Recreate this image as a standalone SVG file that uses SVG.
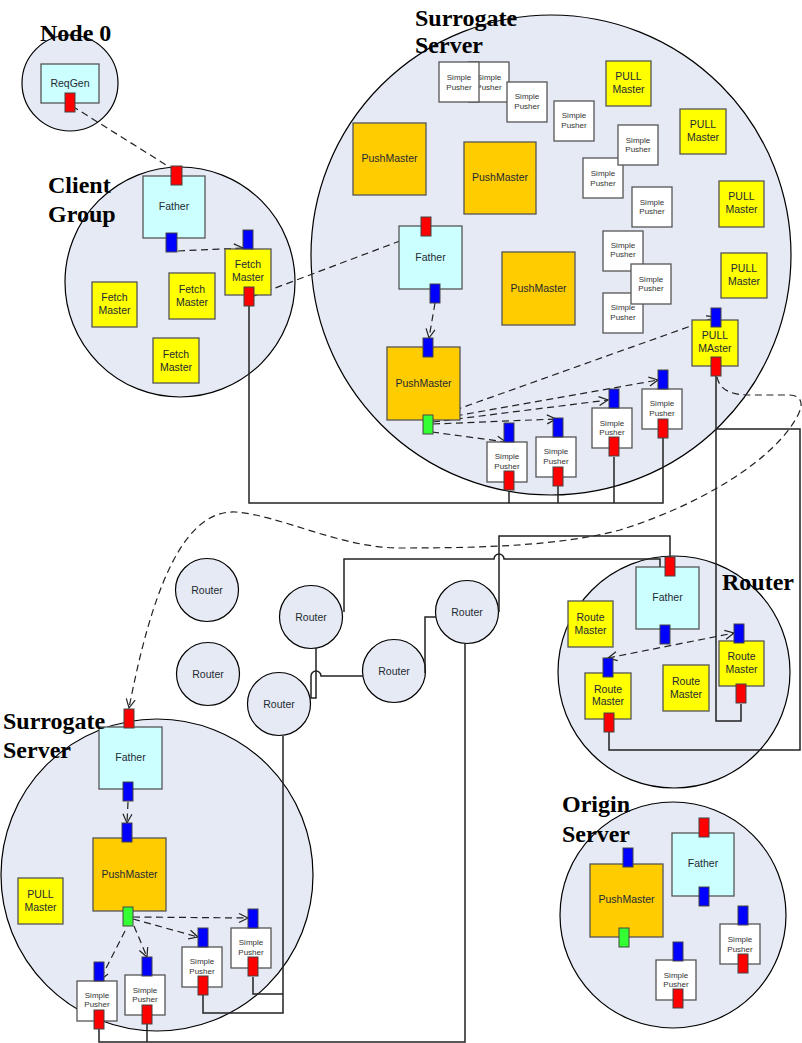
<svg xmlns="http://www.w3.org/2000/svg" width="802" height="1043" viewBox="0 0 802 1043">
<style>
.c{fill:#e6eaf4;stroke:#000;stroke-width:1.2}
.fa{fill:#ccffff;stroke:#555;stroke-width:1.3}
.ye{fill:#ffff00;stroke:#555;stroke-width:1.3}
.pm{fill:#ffcc00;stroke:#555;stroke-width:1.3}
.sp{fill:#fff;stroke:#555;stroke-width:1.3}
.pr{fill:#ff0000;stroke:#444;stroke-width:1}
.pb{fill:#0000ff;stroke:#444;stroke-width:1}
.pg{fill:#33ff33;stroke:#444;stroke-width:1}
.t{font-family:"Liberation Sans",Arial,sans-serif;font-size:10.5px;fill:#1e2a33;text-anchor:middle}
.s{font-family:"Liberation Sans",Arial,sans-serif;font-size:8px;fill:#333;text-anchor:middle}
.big{font-family:"Liberation Serif","Times New Roman",serif;font-weight:bold;font-size:24px;fill:#000}
.w{fill:none;stroke:#222;stroke-width:1.5}
.d{fill:none;stroke:#222;stroke-width:1.2;stroke-dasharray:7,4.5}
</style>
<defs>
<marker id="ah" markerWidth="12" markerHeight="12" refX="10" refY="6" orient="auto-start-reverse" markerUnits="userSpaceOnUse">
<path d="M1,1.5 L10,6 L1,10.5" fill="none" stroke="#222" stroke-width="1.2"/>
</marker>
</defs>

<!-- containers -->
<g id="node0-circle"><circle class="c" cx="70" cy="83" r="48"/></g>
<g id="client-circle"><circle class="c" cx="180" cy="282" r="115"/></g>
<g id="surrogate1-circle"><circle class="c" cx="551" cy="255" r="240"/></g>
<g id="routergrp-circle"><circle class="c" cx="674" cy="672" r="116"/></g>
<g id="surrogate2-circle"><circle class="c" cx="157" cy="875" r="156"/></g>
<g id="origin-circle"><circle class="c" cx="673" cy="915" r="113"/></g>

<!-- routers -->
<g id="routerA"><circle class="c" cx="207" cy="590" r="31.5"/><text class="t" x="207" y="594">Router</text></g>
<g id="routerB"><circle class="c" cx="208" cy="674" r="31.5"/><text class="t" x="208" y="678">Router</text></g>
<g id="routerC"><circle class="c" cx="311" cy="617" r="31.5"/><text class="t" x="311" y="621">Router</text></g>
<g id="routerD"><circle class="c" cx="279" cy="704" r="31.5"/><text class="t" x="279" y="708">Router</text></g>
<g id="routerE"><circle class="c" cx="394" cy="671" r="31.5"/><text class="t" x="394" y="675">Router</text></g>
<g id="routerF"><circle class="c" cx="467" cy="612" r="31.5"/><text class="t" x="467" y="616">Router</text></g>

<!-- connectors -->
<g id="connectors">
<path class="w" d="M249,306 V503 H663 V438"/>
<path class="w" d="M509,491 V503"/>
<path class="w" d="M558,486 V503"/>
<path class="w" d="M614,457 V503"/>
<path class="w" d="M716,376 V721 H741 V704"/>
<path class="w" d="M716,429 H800 V750 H609 V732"/>
<path class="w" d="M499,612 V536 H670 V557"/>
<path class="w" d="M344,612 V559 H494 a5,5 0 0 1 10,0 H660 V567"/>
<path class="w" d="M425,673 V617 H436"/>
<path class="w" d="M363,676 H321 a5,5 0 0 0 -10,0 H311 V698"/>
<path class="w" d="M316,648 V698 H310"/>
<path class="w" d="M283,736 V1013 H203 V995"/>
<path class="w" d="M253,977 V994 H283"/>
<path class="w" d="M465,643 V1042 H99 V1029"/>
<path class="w" d="M147,1024 V1042"/>

<path class="d" d="M72,106 L171,168"/>
<path class="d" d="M178,251 L243,248" marker-end="url(#ah)"/>
<path class="d" d="M254,296 L421,233" marker-end="url(#ah)"/>
<path class="d" d="M435,303 L429,338" marker-end="url(#ah)"/>
<path class="d" d="M432,432 L506,442" marker-end="url(#ah)"/>
<path class="d" d="M433,424 L556,419" marker-end="url(#ah)"/>
<path class="d" d="M433,422 L608,400" marker-end="url(#ah)"/>
<path class="d" d="M433,420 L658,380" marker-end="url(#ah)"/>
<path class="d" d="M433,418 L716,317" marker-end="url(#ah)"/>
<path class="d" d="M608,658 L734,633" marker-start="url(#ah)" marker-end="url(#ah)"/>
<path class="d" d="M128,802 L127,823" marker-end="url(#ah)"/>
<path class="d" d="M133,917 L248,918" marker-end="url(#ah)"/>
<path class="d" d="M133,919 L198,937" marker-end="url(#ah)"/>
<path class="d" d="M134,926 L147,957" marker-end="url(#ah)"/>
<path class="d" d="M125,931 L100,980" marker-end="url(#ah)"/>
<path class="d" d="M717,377 C720,392 735,395 750,395 L790,395 C803,396 803,405 798,415 C775,460 700,505 620,530 C560,546 480,548 400,548 C340,548 280,515 235,512 C180,510 150,600 129,708" marker-end="url(#ah)"/>
</g>

<!-- Node 0 -->
<g id="reqgen"><rect class="fa" x="41" y="64" width="58" height="39"/><text class="t" x="70" y="87">ReqGen</text><rect class="pr" x="65" y="93" width="10" height="19"/></g>

<!-- Client group -->
<g id="client-father"><rect class="fa" x="143" y="176" width="62" height="62"/><text class="t" x="174" y="210">Father</text><rect class="pr" x="171" y="166" width="11" height="19"/><rect class="pb" x="166" y="233" width="11" height="19"/></g>
<g id="fetch0"><rect class="ye" x="225" y="249" width="46" height="46"/><text class="t"><tspan x="248" y="268">Fetch</tspan><tspan x="248" y="281">Master</tspan></text><rect class="pb" x="243" y="230" width="10" height="19"/><rect class="pr" x="244" y="287" width="10" height="19"/></g>
<g id="fetch1"><rect class="ye" x="92" y="282" width="45" height="45"/><text class="t"><tspan x="114.5" y="301">Fetch</tspan><tspan x="114.5" y="314">Master</tspan></text></g>
<g id="fetch2"><rect class="ye" x="169" y="273" width="46" height="46"/><text class="t"><tspan x="192" y="293">Fetch</tspan><tspan x="192" y="306">Master</tspan></text></g>
<g id="fetch3"><rect class="ye" x="153" y="338" width="46" height="45"/><text class="t"><tspan x="176" y="358">Fetch</tspan><tspan x="176" y="371">Master</tspan></text></g>

<!-- Surrogate server (top) -->
<g id="s1-spb"><rect class="sp" x="469" y="62" width="40" height="40"/><text class="s"><tspan x="489" y="80">Simple</tspan><tspan x="489" y="90">Pusher</tspan></text></g>
<g id="s1-spa"><rect class="sp" x="439" y="62" width="40" height="40"/><text class="s"><tspan x="459" y="80">Simple</tspan><tspan x="459" y="90">Pusher</tspan></text></g>
<g id="s1-spc"><rect class="sp" x="507" y="82" width="40" height="40"/><text class="s"><tspan x="527" y="99">Simple</tspan><tspan x="527" y="109">Pusher</tspan></text></g>
<g id="s1-spd"><rect class="sp" x="554" y="101" width="40" height="40"/><text class="s"><tspan x="574" y="118">Simple</tspan><tspan x="574" y="128">Pusher</tspan></text></g>
<g id="s1-spf"><rect class="sp" x="583" y="158" width="40" height="40"/><text class="s"><tspan x="603" y="176">Simple</tspan><tspan x="603" y="186">Pusher</tspan></text></g>
<g id="s1-spe"><rect class="sp" x="618" y="125" width="40" height="40"/><text class="s"><tspan x="638" y="143">Simple</tspan><tspan x="638" y="152">Pusher</tspan></text></g>
<g id="s1-spg"><rect class="sp" x="632" y="187" width="40" height="40"/><text class="s"><tspan x="652" y="205">Simple</tspan><tspan x="652" y="214">Pusher</tspan></text></g>
<g id="s1-sph"><rect class="sp" x="603" y="231" width="40" height="40"/><text class="s"><tspan x="623" y="248">Simple</tspan><tspan x="623" y="257">Pusher</tspan></text></g>
<g id="s1-spj"><rect class="sp" x="603" y="293" width="40" height="40"/><text class="s"><tspan x="623" y="310">Simple</tspan><tspan x="623" y="320">Pusher</tspan></text></g>
<g id="s1-spi"><rect class="sp" x="631" y="264" width="40" height="40"/><text class="s"><tspan x="651" y="282">Simple</tspan><tspan x="651" y="291">Pusher</tspan></text></g>
<g id="s1-pull1"><rect class="ye" x="606" y="61" width="45" height="45"/><text class="t"><tspan x="628.5" y="80">PULL</tspan><tspan x="628.5" y="93">Master</tspan></text></g>
<g id="s1-pull2"><rect class="ye" x="680" y="109" width="46" height="45"/><text class="t"><tspan x="703" y="128">PULL</tspan><tspan x="703" y="141">Master</tspan></text></g>
<g id="s1-pull3"><rect class="ye" x="719" y="181" width="45" height="46"/><text class="t"><tspan x="741.5" y="200">PULL</tspan><tspan x="741.5" y="213">Master</tspan></text></g>
<g id="s1-pull4"><rect class="ye" x="721" y="253" width="46" height="45"/><text class="t"><tspan x="744" y="272">PULL</tspan><tspan x="744" y="285">Master</tspan></text></g>
<g id="s1-pull0"><rect class="ye" x="692" y="320" width="46" height="46"/><text class="t"><tspan x="715" y="339">PULL</tspan><tspan x="715" y="352">MAster</tspan></text><rect class="pb" x="711" y="308" width="10" height="19"/><rect class="pr" x="711" y="357" width="10" height="19"/></g>
<g id="s1-pm1"><rect class="pm" x="353" y="123" width="73" height="72"/><text class="t" x="389.5" y="162">PushMaster</text></g>
<g id="s1-pm2"><rect class="pm" x="464" y="142" width="72" height="72"/><text class="t" x="500" y="181">PushMaster</text></g>
<g id="s1-pm3"><rect class="pm" x="502" y="252" width="73" height="73"/><text class="t" x="538.5" y="292">PushMaster</text></g>
<g id="s1-father"><rect class="fa" x="399" y="226" width="63" height="63"/><text class="t" x="430.5" y="261">Father</text><rect class="pr" x="421" y="217" width="10" height="19"/><rect class="pb" x="430" y="284" width="10" height="19"/></g>
<g id="s1-pm0"><rect class="pm" x="387" y="347" width="73" height="73"/><text class="t" x="423.5" y="387">PushMaster</text><rect class="pb" x="423" y="338" width="10" height="19"/><rect class="pg" x="423" y="415" width="10" height="19"/></g>
<g id="s1-sp1"><rect class="sp" x="487" y="442" width="40" height="40"/><text class="s"><tspan x="507" y="459">Simple</tspan><tspan x="507" y="469">Pusher</tspan></text><rect class="pb" x="504" y="423" width="10" height="19"/><rect class="pr" x="504" y="471" width="10" height="19"/></g>
<g id="s1-sp2"><rect class="sp" x="536" y="437" width="40" height="40"/><text class="s"><tspan x="556" y="454">Simple</tspan><tspan x="556" y="464">Pusher</tspan></text><rect class="pb" x="553" y="418" width="10" height="19"/><rect class="pr" x="553" y="467" width="10" height="19"/></g>
<g id="s1-sp3"><rect class="sp" x="592" y="408" width="40" height="40"/><text class="s"><tspan x="612" y="426">Simple</tspan><tspan x="612" y="435">Pusher</tspan></text><rect class="pb" x="609" y="389" width="10" height="19"/><rect class="pr" x="609" y="437" width="10" height="19"/></g>
<g id="s1-sp4"><rect class="sp" x="642" y="389" width="40" height="40"/><text class="s"><tspan x="662" y="406">Simple</tspan><tspan x="662" y="416">Pusher</tspan></text><rect class="pb" x="658" y="370" width="10" height="19"/><rect class="pr" x="658" y="419" width="10" height="19"/></g>

<!-- Router group -->
<g id="r-father"><rect class="fa" x="636" y="567" width="63" height="62"/><text class="t" x="667.5" y="601">Father</text><rect class="pr" x="665" y="557" width="10" height="19"/><rect class="pb" x="660" y="625" width="10" height="19"/></g>
<g id="r-rm1"><rect class="ye" x="568" y="601" width="45" height="46"/><text class="t"><tspan x="590.5" y="621">Route</tspan><tspan x="590.5" y="634">Master</tspan></text></g>
<g id="r-rm2"><rect class="ye" x="585" y="673" width="46" height="46"/><text class="t"><tspan x="608" y="693">Route</tspan><tspan x="608" y="705">Master</tspan></text><rect class="pb" x="603" y="658" width="10" height="19"/><rect class="pr" x="604" y="713" width="10" height="19"/></g>
<g id="r-rm3"><rect class="ye" x="663" y="665" width="46" height="46"/><text class="t"><tspan x="686" y="685">Route</tspan><tspan x="686" y="698">Master</tspan></text></g>
<g id="r-rm4"><rect class="ye" x="719" y="641" width="45" height="45"/><text class="t"><tspan x="741.5" y="660">Route</tspan><tspan x="741.5" y="673">Master</tspan></text><rect class="pb" x="734" y="624" width="10" height="19"/><rect class="pr" x="736" y="684" width="10" height="19"/></g>

<!-- Surrogate server (bottom) -->
<g id="s2-father"><rect class="fa" x="99" y="727" width="63" height="62"/><text class="t" x="130.5" y="761">Father</text><rect class="pr" x="124" y="709" width="10" height="19"/><rect class="pb" x="123" y="782" width="10" height="19"/></g>
<g id="s2-pm"><rect class="pm" x="93" y="838" width="73" height="73"/><text class="t" x="129.5" y="878">PushMaster</text><rect class="pb" x="122" y="823" width="10" height="19"/><rect class="pg" x="123" y="907" width="10" height="19"/></g>
<g id="s2-pull"><rect class="ye" x="18" y="878" width="45" height="46"/><text class="t"><tspan x="40.5" y="898">PULL</tspan><tspan x="40.5" y="911">Master</tspan></text></g>
<g id="s2-spa"><rect class="sp" x="77" y="981" width="40" height="40"/><text class="s"><tspan x="97" y="998">Simple</tspan><tspan x="97" y="1007">Pusher</tspan></text><rect class="pb" x="94" y="962" width="10" height="19"/><rect class="pr" x="94" y="1010" width="10" height="19"/></g>
<g id="s2-spb"><rect class="sp" x="125" y="975" width="40" height="40"/><text class="s"><tspan x="145" y="993">Simple</tspan><tspan x="145" y="1002">Pusher</tspan></text><rect class="pb" x="142" y="957" width="10" height="19"/><rect class="pr" x="142" y="1005" width="10" height="19"/></g>
<g id="s2-spc"><rect class="sp" x="182" y="947" width="40" height="40"/><text class="s"><tspan x="202" y="964">Simple</tspan><tspan x="202" y="974">Pusher</tspan></text><rect class="pb" x="198" y="928" width="10" height="19"/><rect class="pr" x="198" y="976" width="10" height="19"/></g>
<g id="s2-spd"><rect class="sp" x="231" y="928" width="40" height="40"/><text class="s"><tspan x="251" y="945">Simple</tspan><tspan x="251" y="955">Pusher</tspan></text><rect class="pb" x="248" y="909" width="10" height="19"/><rect class="pr" x="248" y="957" width="10" height="19"/></g>

<!-- Origin server -->
<g id="o-pm"><rect class="pm" x="590" y="864" width="73" height="73"/><text class="t" x="626.5" y="903">PushMaster</text><rect class="pb" x="623" y="848" width="10" height="19"/><rect class="pg" x="619" y="928" width="10" height="19"/></g>
<g id="o-father"><rect class="fa" x="672" y="833" width="62" height="63"/><text class="t" x="703" y="867">Father</text><rect class="pr" x="699" y="818" width="10" height="19"/><rect class="pb" x="699" y="887" width="10" height="19"/></g>
<g id="o-sp1"><rect class="sp" x="720" y="924" width="40" height="40"/><text class="s"><tspan x="740" y="942">Simple</tspan><tspan x="740" y="952">Pusher</tspan></text><rect class="pb" x="738" y="906" width="10" height="19"/><rect class="pr" x="738" y="954" width="10" height="19"/></g>
<g id="o-sp2"><rect class="sp" x="656" y="960" width="40" height="40"/><text class="s"><tspan x="676" y="978">Simple</tspan><tspan x="676" y="987">Pusher</tspan></text><rect class="pb" x="673" y="942" width="10" height="19"/><rect class="pr" x="673" y="989" width="10" height="19"/></g>

<!-- labels -->
<g id="labels">
<text class="big" x="40" y="41">Node 0</text>
<text class="big"><tspan x="48" y="193">Client</tspan><tspan x="48" y="222">Group</tspan></text>
<text class="big"><tspan x="415" y="26">Surrogate</tspan><tspan x="415" y="53">Server</tspan></text>
<text class="big" x="722" y="590">Router</text>
<text class="big"><tspan x="3" y="729">Surrogate</tspan><tspan x="3" y="758">Server</tspan></text>
<text class="big"><tspan x="562" y="812">Origin</tspan><tspan x="562" y="842">Server</tspan></text>
</g>
</svg>
